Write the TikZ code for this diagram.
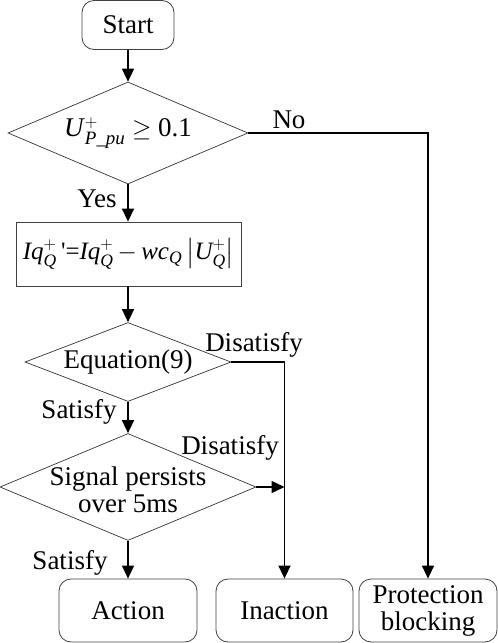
\documentclass[tikz,border=0pt]{standalone}
\usepackage{amsmath}
\usepackage{fontspec}
\setmainfont{Liberation Serif}
\usetikzlibrary{shapes.geometric,arrows.meta}
\newcommand{\vi}[1]{\textit{#1}}
\begin{document}
\begin{tikzpicture}[x=1pt,y=-1pt,
  every node/.style={font=\fontsize{27}{30}\selectfont, inner sep=0pt},
  rbox/.style={draw=black!75, line width=0.8pt, rounded corners=12pt, align=center},
  sbox/.style={draw=black!75, line width=0.8pt},
  dia/.style={draw=black!80, line width=0.7pt, diamond, align=center},
  lab/.style={},
  arr/.style={line width=1.5pt, -{Triangle[length=13pt,width=12pt]}}
]
\useasboundingbox (0,0) rectangle (498,643);
\node[rbox, minimum width=92pt, minimum height=49pt] (start) at (128,25) {Start};
\node[dia, aspect=2.35, minimum width=240pt, minimum height=102pt] (d1) at (128,133) {};
\node (d1t) at (128,133) {\vi{U}$^{+}_{\vi{P\_pu}}$ $\geq$ 0.1};
\node[sbox, minimum width=225pt, minimum height=64pt] (calc) at (128.5,254) {};
\node[font=\fontsize{25}{30}\selectfont] (calct) at (128.5,254)
  {\vi{Iq}$^{+}_{\vi{Q}}$\,\textquotesingle=\vi{Iq}$^{+}_{\vi{Q}}$\,$-$\,\vi{wc}$_{\vi{Q}}$\,$\left|\vi{U}^{+}_{\vi{Q}}\right|$};
\node[dia, aspect=2.6, minimum width=206pt, minimum height=79pt] (d2) at (128,362) {};
\node (d2t) at (128,362) {Equation(9)};
\node[dia, aspect=2.39, minimum width=256pt, minimum height=107pt] (d3) at (128,487) {};
\node (d3t) at (128,493) {\begin{tabular}{@{}c@{}}Signal persists\\[-3pt] over 5ms\end{tabular}};
\node[rbox, minimum width=138pt, minimum height=63pt] (act) at (128,610.5) {Action};
\node[rbox, minimum width=137pt, minimum height=63pt] (inact) at (284.5,610.5) {Inaction};
\node[rbox, minimum width=138pt, minimum height=63pt] (prot) at (428,610.5)
  {\begin{tabular}{@{}c@{}}Protection\\[-3pt] blocking\end{tabular}};
\coordinate (j) at (inact.north |- d3.east);
\draw[arr] (start) -- (d1.north);
\draw[arr] (d1.south) -- (calc.north -| d1.south);
\draw[arr] (calc.south -| d2.north) -- (d2.north);
\draw[arr] (d2.south) -- (d3.north);
\draw[arr] (d3.south) -- (act.north);
\draw[arr] (d1.east) -| (prot.north);
\draw[arr] (d2.east) -| (inact.north);
\draw[arr] (d3.east) -- (j);
\node[lab] at (289,120) {No};
\node[lab] at (97,199) {Yes};
\node[lab] at (254,345) {Disatisfy};
\node[lab] at (79,412) {Satisfy};
\node[lab] at (230,448) {Disatisfy};
\node[lab] at (70,563) {Satisfy};
\end{tikzpicture}
\end{document}
